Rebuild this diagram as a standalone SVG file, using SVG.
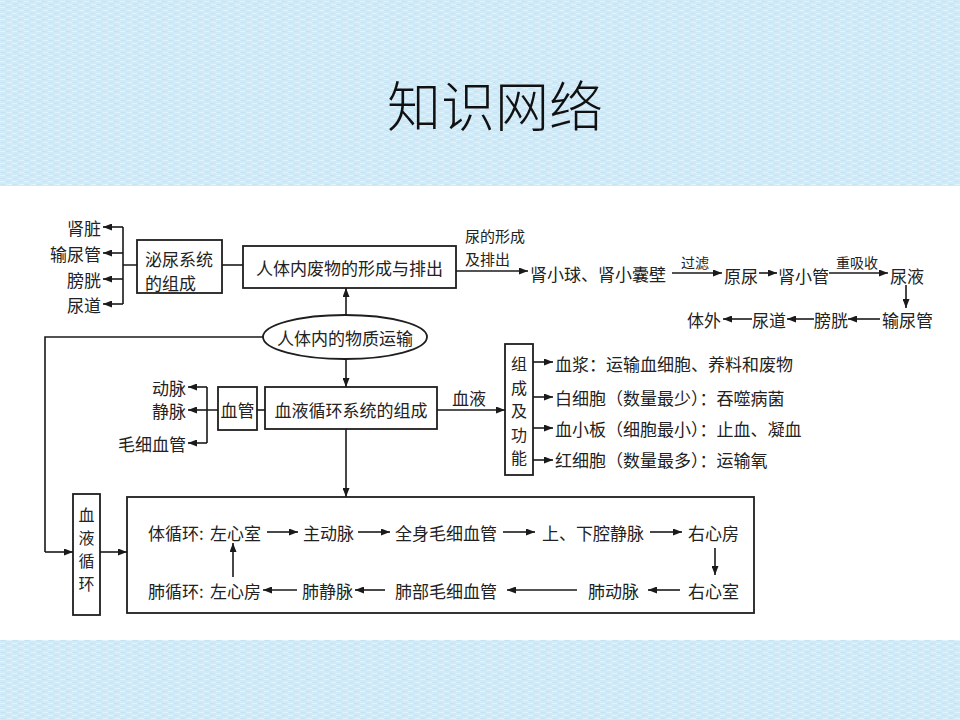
<svg xmlns="http://www.w3.org/2000/svg" width="960" height="720" viewBox="0 0 960 720">
<defs>
<pattern id="tex" width="12" height="6" patternUnits="userSpaceOnUse">
<rect width="12" height="6" fill="#d1eaf8"/>
<path d="M0 1.5H5M7 4.5H12" stroke="#e2f3fc" stroke-width="1"/>
<path d="M6 1.5H10M1 4.5H5" stroke="#c3e1f3" stroke-width="0.8"/>
</pattern>
<marker id="ah" viewBox="0 0 9 7" refX="9" refY="3.5" markerWidth="9" markerHeight="7" markerUnits="userSpaceOnUse" orient="auto">
<path d="M0 0L9 3.5L0 7z" fill="#1a1a1a"/>
</marker>
</defs>
<style>
text{font-family:"Noto Sans CJK SC","Noto Sans",sans-serif;fill:#222;dominant-baseline:central}
.t{font-size:17px}
.v{font-size:16px}
.s{font-size:15px}
.xs{font-size:14px}
.c{text-anchor:middle}
.e{text-anchor:end}
.box{fill:#fff;stroke:#1e1e1e;stroke-width:1.8}
.ln{fill:none;stroke:#1a1a1a;stroke-width:1.6}
.ar{fill:none;stroke:#1a1a1a;stroke-width:1.6;marker-end:url(#ah)}
</style>
<rect x="0" y="0" width="960" height="186" fill="url(#tex)"/>
<rect x="0" y="186" width="960" height="454" fill="#ffffff"/>
<rect x="0" y="640" width="960" height="80" fill="url(#tex)"/>
<g id="title"><text x="495" y="103" class="c" style="font-size:54px;font-weight:300;fill:#111">知识网络</text></g>

<g id="urinary-organs">
<text x="101" y="227" class="t e">肾脏</text>
<text x="101" y="253" class="t e">输尿管</text>
<text x="101" y="279" class="t e">膀胱</text>
<text x="101" y="304" class="t e">尿道</text>
</g>
<g id="urinary-system">
<rect x="137" y="240" width="85" height="53" class="box"/>
<text x="145" y="258" class="t">泌尿系统</text>
<text x="145" y="282" class="t">的组成</text>
</g>
<g id="waste">
<rect x="243" y="246" width="213" height="42" class="box"/>
<text x="349.5" y="267" class="t c">人体内废物的形成与排出</text>
</g>
<g id="urine-label">
<text x="465" y="235" class="s">尿的形成</text>
<text x="465" y="258" class="s">及排出</text>
</g>
<g id="urine-path">
<text x="530" y="273" class="t">肾小球、肾小囊壁</text>
<text x="695" y="262" class="xs c">过滤</text>
<text x="724" y="275" class="t">原尿</text>
<text x="778" y="275" class="t">肾小管</text>
<text x="857" y="262" class="xs c">重吸收</text>
<text x="890" y="275" class="t">尿液</text>
<text x="882" y="319" class="t">输尿管</text>
<text x="814" y="319" class="t">膀胱</text>
<text x="752" y="319" class="t">尿道</text>
<text x="687" y="319" class="t">体外</text>
</g>
<g id="transport">
<ellipse cx="345" cy="337" rx="82" ry="22" class="box"/>
<text x="345" y="337" class="t c">人体内的物质运输</text>
</g>
<g id="vessel-types">
<text x="186" y="387" class="t e">动脉</text>
<text x="186" y="410" class="t e">静脉</text>
<text x="186" y="443" class="t e">毛细血管</text>
</g>
<g id="vessels">
<rect x="218" y="387" width="39" height="43" class="box"/>
<text x="237.5" y="409" class="t c">血管</text>
</g>
<g id="circ-system">
<rect x="265" y="387" width="172" height="42" class="box"/>
<text x="351" y="409" class="t c">血液循环系统的组成</text>
</g>
<g id="blood-label"><text x="469" y="397" class="t c">血液</text></g>
<g id="composition">
<rect x="505" y="344" width="28" height="131" class="box"/>
<text x="519" y="363" class="v c">组</text>
<text x="519" y="386.5" class="v c">成</text>
<text x="519" y="410" class="v c">及</text>
<text x="519" y="433.5" class="v c">功</text>
<text x="519" y="457" class="v c">能</text>
</g>
<g id="blood-parts">
<text x="555" y="363" class="t">血浆：运输血细胞、养料和废物</text>
<text x="555" y="397" class="t">白细胞（数量最少）：吞噬病菌</text>
<text x="555" y="428" class="t">血小板（细胞最小）：止血、凝血</text>
<text x="555" y="459" class="t">红细胞（数量最多）：运输氧</text>
</g>
<g id="circulation">
<rect x="73" y="494" width="27" height="121" class="box"/>
<text x="86.5" y="514" class="v c">血</text>
<text x="86.5" y="537" class="v c">液</text>
<text x="86.5" y="560" class="v c">循</text>
<text x="86.5" y="583" class="v c">环</text>
</g>
<g id="circuits">
<rect x="127" y="497" width="627" height="116" class="box"/>
<text x="148" y="532" class="t">体循环:</text>
<text x="210" y="532" class="t">左心室</text>
<text x="303" y="532" class="t">主动脉</text>
<text x="395" y="532" class="t">全身毛细血管</text>
<text x="542" y="532" class="t">上、下腔静脉</text>
<text x="688" y="532" class="t">右心房</text>
<text x="148" y="590" class="t">肺循环:</text>
<text x="210" y="590" class="t">左心房</text>
<text x="302" y="590" class="t">肺静脉</text>
<text x="395" y="590" class="t">肺部毛细血管</text>
<text x="588" y="590" class="t">肺动脉</text>
<text x="688" y="590" class="t">右心室</text>
</g>

<g id="connectors">
<path class="ln" d="M137 265H123M123 227V304"/>
<path class="ar" d="M123 227H103"/>
<path class="ar" d="M123 253H103"/>
<path class="ar" d="M123 279H103"/>
<path class="ar" d="M123 304H103"/>
<path class="ln" d="M222 265H243"/>
<path class="ar" d="M456 271H528"/>
<path class="ar" d="M672 273H722"/>
<path class="ar" d="M759 273H777"/>
<path class="ar" d="M829 273H888"/>
<path class="ar" d="M906 285V308"/>
<path class="ar" d="M880 319H848"/>
<path class="ar" d="M814 319H787"/>
<path class="ar" d="M752 319H723"/>
<path class="ar" d="M346 315V288"/>
<path class="ar" d="M346 359V387"/>
<path class="ln" d="M263 337H45V552"/>
<path class="ar" d="M45 552H73"/>
<path class="ln" d="M257 410H265"/>
<path class="ln" d="M218 410H207M207 387V443"/>
<path class="ar" d="M207 387H188"/>
<path class="ar" d="M207 410H188"/>
<path class="ar" d="M207 443H188"/>
<path class="ar" d="M437 410H505"/>
<path class="ar" d="M533 362H553"/>
<path class="ar" d="M533 397H553"/>
<path class="ar" d="M533 428H553"/>
<path class="ar" d="M533 460H553"/>
<path class="ar" d="M346 429V497"/>
<path class="ar" d="M100 552H127"/>
<path class="ar" d="M267 532H298"/>
<path class="ar" d="M358 532H390"/>
<path class="ar" d="M503 532H535"/>
<path class="ar" d="M650 532H682"/>
<path class="ar" d="M715 548V575"/>
<path class="ar" d="M680 590H648"/>
<path class="ar" d="M577 590H507"/>
<path class="ar" d="M385 590H355"/>
<path class="ar" d="M297 590H263"/>
<path class="ar" d="M233 577V543"/>
</g>
</svg>
